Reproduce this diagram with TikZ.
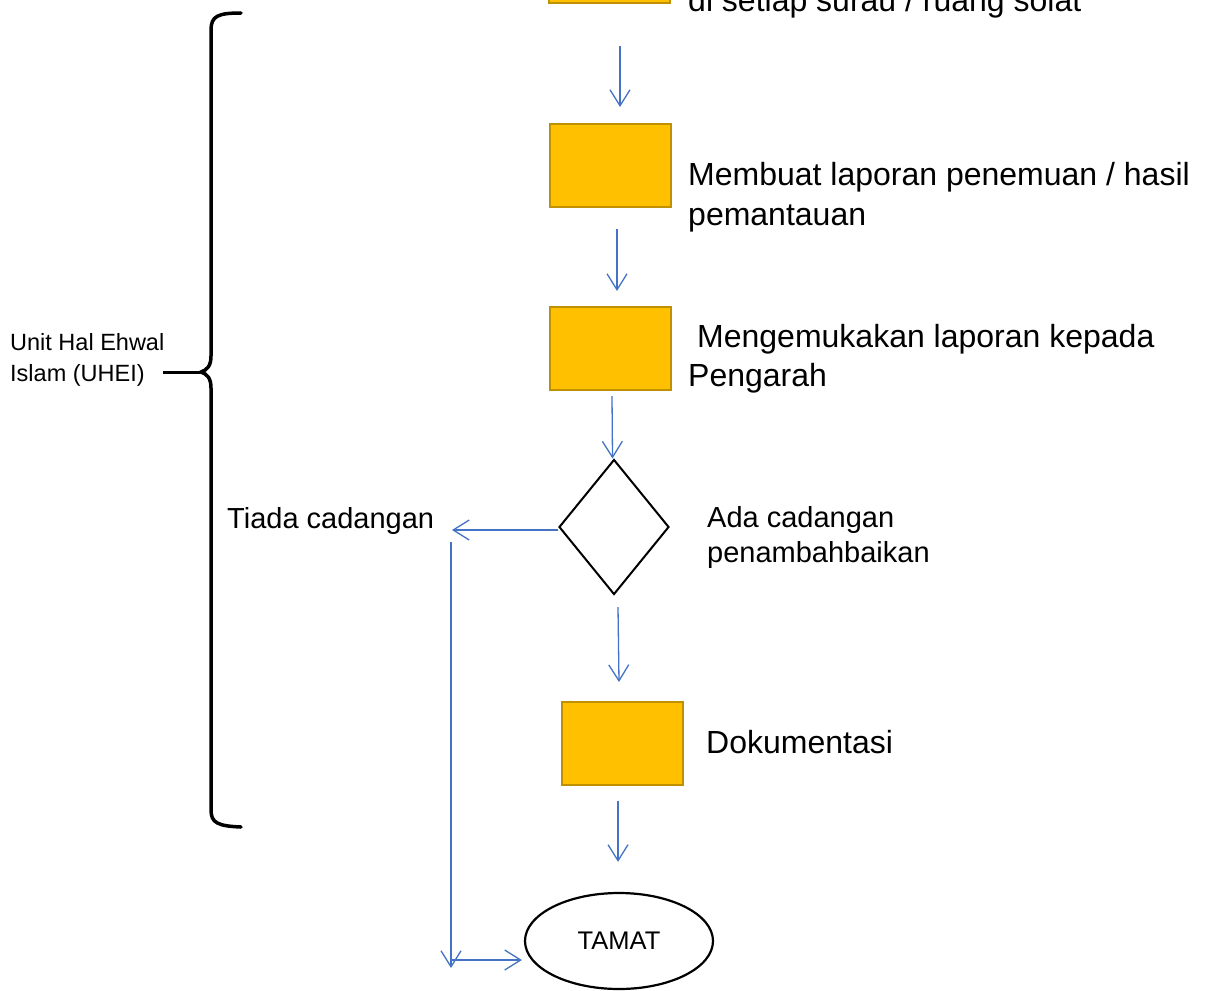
\documentclass[tikz,border=0pt]{standalone}
\usepackage{fontspec}
\setmainfont{Liberation Sans}
\usetikzlibrary{arrows.meta,shapes.geometric}
\definecolor{boxfill}{HTML}{FFC000}
\definecolor{boxedge}{HTML}{BF9000}
\definecolor{flowblue}{HTML}{4472C4}
\tikzset{
  stepbox/.style={draw=boxedge, fill=boxfill, line width=2pt,
    minimum width=121pt, minimum height=83pt, inner sep=0pt},
  decision/.style={diamond, draw=black, line width=2pt,
    minimum width=110pt, minimum height=135pt, inner sep=0pt},
  endnode/.style={ellipse, draw=black, line width=2.2pt,
    minimum width=188pt, minimum height=96pt, inner sep=0pt,
    font=\fontsize{25.5}{30}\selectfont},
  flow/.style={draw=flowblue, line width=1.3pt,
    -{Straight Barb[length=16pt,width=20pt]}},
  bigtext/.style={font=\fontsize{32}{39}\selectfont, anchor=base west, inner sep=0pt},
  midtext/.style={font=\fontsize{29}{35}\selectfont, anchor=base west, inner sep=0pt},
  smalltext/.style={font=\fontsize{23.5}{30}\selectfont, anchor=base west, inner sep=0pt},
  brace/.style={draw=black, line width=3.5pt, line cap=round}
}
\begin{document}
\begin{tikzpicture}[x=1pt,y=-1pt]
\useasboundingbox (0,0) rectangle (1212,990);
\clip (0,0) rectangle (1212,990);

% process steps
\node[stepbox] (b0) at (609,-38.5) {};
\node[stepbox] (b1) at (610.5,165) {};
\node[stepbox] (b2) at (610.5,348) {};
\node[decision] (dia) at (614,527) {};
\node[stepbox] (b3) at (622.5,743.5) {};
\node[endnode] (tamat) at (619,941) {TAMAT};

% step descriptions
\node[bigtext] (t0) at (688,12) {di setiap surau / ruang solat};
\node[bigtext] (t1a) at (688,185) {Membuat laporan penemuan / hasil};
\node[bigtext] (t1b) at (688,225) {pemantauan};
\node[bigtext] (t2a) at (697,347) {Mengemukakan laporan kepada};
\node[bigtext] (t2b) at (688,386) {Pengarah};
\node[midtext] (t3a) at (707,527) {Ada cadangan};
\node[midtext] (t3b) at (707,562) {penambahbaikan};
\node[midtext] (t4) at (227,528) {Tiada cadangan};
\node[bigtext] (t5) at (706,753) {Dokumentasi};

% responsible unit
\node[smalltext] (u1) at (10,350) {Unit Hal Ehwal};
\node[smalltext] (u2) at (10,381) {Islam (UHEI)};

% brace grouping the steps
\coordinate (btip) at (201,372);
\coordinate (blbl) at (163,372);
\draw[brace] (241,13) .. controls (218,13) and (211,16) .. (211,30)
  -- (211,356) .. controls (211,366) and (207,370) .. (btip)
  .. controls (207,374) and (211,378) .. (211,388)
  -- (211,810) .. controls (211,823) and (218,826) .. (241,827);
\draw[draw=black, line width=3pt] (blbl) -- (btip);

% flow connectors
\coordinate (tl) at (452,530);
\coordinate (vt) at (451,542);
\coordinate (vb) at (451,968);
\coordinate (hb) at (452,960);
\draw[flow] ([shift={(11,42)}]b0.south) -- ([shift={(9.5,-15.5)}]b1.north);
\draw[flow] ([shift={(6.5,21.5)}]b1.south) -- ([shift={(6.5,-14.5)}]b2.north);
\draw[flow] ([shift={(1.5,5.5)}]b2.south) -- ([shift={(-1.5,0)}]dia.north);
\draw[flow] ([shift={(0,3)}]dia.west) -- (tl);
\draw[flow] (vt) -- (vb);
\draw[flow] (hb) -- ([shift={(-2,19)}]tamat.west);
\draw[flow] ([shift={(4,11.5)}]dia.south) -- ([shift={(-3.5,-19)}]b3.north);
\draw[flow] ([shift={(-4.5,15)}]b3.south) -- ([shift={(-1,-30)}]tamat.north);
\end{tikzpicture}
\end{document}
